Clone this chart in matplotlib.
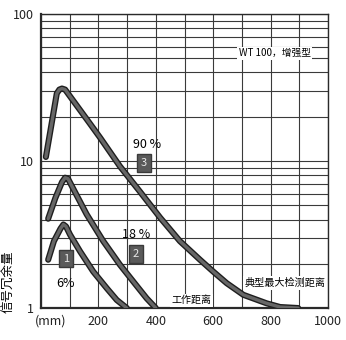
import matplotlib.pyplot as plt
import matplotlib.patheffects as pe
import matplotlib.transforms as mtrans
from matplotlib.ticker import FixedLocator, NullFormatter

plt.rcParams['font.family'] = ['Noto Sans CJK SC', 'DejaVu Sans']

# distance (mm) vs. signal reserve, one curve per target reflectivity
dist_6 = [25, 45, 68, 78, 87, 101, 136, 182, 229, 264, 299]
rsv_6 = [2.13, 2.85, 3.47, 3.70, 3.59, 3.16, 2.43, 1.77, 1.365, 1.134, 1.0]

dist_18 = [25, 50, 73, 84, 94, 159, 217, 275, 322, 368, 400]
rsv_18 = [4.05, 5.6, 7.18, 7.7, 7.58, 4.34, 2.85, 1.97, 1.51, 1.165, 1.0]

dist_90 = [17, 36, 55, 64, 73, 84, 171, 206, 275, 345, 415, 484, 554, 600, 647, 705, 786, 833, 896]
rsv_90 = [10.65, 17.5, 28.8, 30.6, 31.1, 30.6, 17.9, 14.4, 9.2, 6.18, 4.12, 2.85, 2.13, 1.77, 1.476, 1.23, 1.077, 1.016, 1.0]

curves = [(dist_6, rsv_6), (dist_18, rsv_18), (dist_90, rsv_90)]

x_ticks = [0, 200, 400, 600, 800, 1000]
x_labels = ['(mm)', '200', '400', '600', '800', '1000']
y_ticks = [1, 10, 100]
y_labels = ['1', '10', '100']

fig = plt.figure(figsize=(3.46, 3.40), dpi=100)
ax = fig.add_axes([0.1185, 0.094, 0.8295, 0.865])
ax.set_yscale('log')
ax.set_xlim(0, 1000)
ax.set_ylim(1, 100)

# log paper grid
ax.xaxis.set_major_locator(FixedLocator(x_ticks))
ax.xaxis.set_minor_locator(FixedLocator(range(100, 1000, 200)))
ax.yaxis.set_major_locator(FixedLocator(y_ticks))
ax.yaxis.set_minor_locator(FixedLocator([m * d for d in (1, 10) for m in range(2, 10)]))
ax.yaxis.set_minor_formatter(NullFormatter())
ax.set_xticklabels(x_labels)
ax.set_yticklabels(y_labels)
ax.grid(which='both', color='#3a3a3a', linewidth=0.8)
ax.tick_params(which='both', length=0, labelsize=9, colors='#222222', pad=5)
for s in ax.spines.values():
    s.set_color('#2a2a2a')
    s.set_linewidth(1.0)
ax.spines['left'].set_linewidth(1.6)
ax.spines['bottom'].set_linewidth(1.6)

# "(mm)" sits a little right of the origin
mm = ax.get_xticklabels()[0]
mm.set_transform(mm.get_transform() + mtrans.ScaledTranslation(10 / 100, 0, fig.dpi_scale_trans))

stroke = [pe.Stroke(linewidth=4.4, foreground='#1e1e1e'), pe.Normal()]
for d, r in curves:
    ax.plot(d, r, color='#666666', linewidth=2.4, solid_capstyle='round',
            solid_joinstyle='round', path_effects=stroke, zorder=3)

box = dict(boxstyle='square,pad=0.35', facecolor='#5a5a5a', edgecolor='#3a3a3a')
ax.text(370, 12.9, '90 %', fontsize=9, ha='center', va='center', zorder=4)
ax.text(359, 9.7, '3', fontsize=8, color='#e8e8e8', ha='center', va='center', bbox=box, zorder=4)
ax.text(331, 3.16, '18 %', fontsize=9, ha='center', va='center', zorder=4)
ax.text(331, 2.34, '2', fontsize=8, color='#e8e8e8', ha='center', va='center', bbox=box, zorder=4)
ax.text(87, 2.17, '1', fontsize=8, color='#e8e8e8', ha='center', va='center', bbox=box, zorder=4)
ax.text(84, 1.48, '6%', fontsize=9, ha='center', va='center', zorder=4)

white = dict(boxstyle='square,pad=0.15', facecolor='white', edgecolor='none')
ax.text(523, 1.13, '工作距离', fontsize=7.2, ha='center', va='center', bbox=white, zorder=4)
ax.text(850, 1.48, '典型最大检测距离', fontsize=7.3, ha='center', va='center', bbox=white, zorder=4)
ax.text(815, 54, 'WT 100，增强型', fontsize=7, ha='center', va='center', bbox=white, zorder=4)

fig.text(0.025, 0.17, '信号冗余量', rotation=90, fontsize=9, ha='center', va='center')

fig.savefig('out.png', dpi=100)
